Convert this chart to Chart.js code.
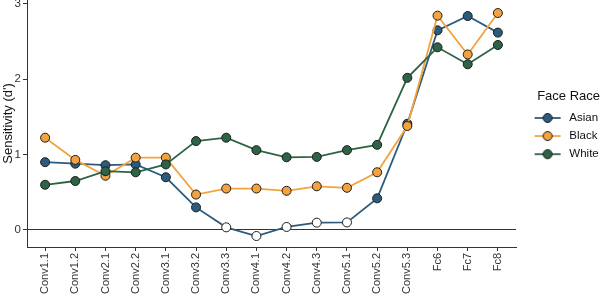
<!DOCTYPE html>
<html><head><meta charset="utf-8">
<script src="https://cdn.jsdelivr.net/npm/chart.js@4"></script>
<style>html,body{margin:0;padding:0;background:#fff}</style>
</head><body>
<canvas id="c" width="600" height="295"></canvas>
<script>
const categories = ['Conv1.1','Conv1.2','Conv2.1','Conv2.2','Conv3.1','Conv3.2','Conv3.3','Conv4.1','Conv4.2','Conv4.3','Conv5.1','Conv5.2','Conv5.3','Fc6','Fc7','Fc8'];
const asian = [0.90,0.88,0.86,0.87,0.70,0.30,0.035,-0.08,0.04,0.097,0.10,0.42,1.41,2.65,2.84,2.62];
const black = [1.225,0.93,0.72,0.96,0.96,0.47,0.55,0.55,0.52,0.58,0.56,0.766,1.38,2.845,2.33,2.88];
const white = [0.60,0.65,0.78,0.766,0.87,1.18,1.225,1.06,0.965,0.97,1.06,1.13,2.02,2.425,2.20,2.456];
const asianSignificant = [true,true,true,true,true,true,false,false,false,false,false,true,true,true,true,true];
const seriesNames = ['Asian','Black','White'];
const yTickValues = [0,1,2,3];
const legendTitle = 'Face Race';
const yTitle = "Sensitivity (d')";

const FONT = "'Liberation Sans', Arial, Helvetica, sans-serif";
const colors = ['#2b5b7d','#f2a33f','#2e6446'];
const outline = '#1c1c1c';
const axisColor = '#333333';

function makeMarker(color){
  const cv = document.createElement('canvas');
  cv.width = 41; cv.height = 12;
  const g = cv.getContext('2d');
  g.strokeStyle = color; g.lineWidth = 1.8;
  g.beginPath(); g.moveTo(12,6); g.lineTo(38,6); g.stroke();
  g.beginPath(); g.arc(25,6,4.5,0,Math.PI*2);
  g.fillStyle = color; g.fill();
  g.strokeStyle = outline; g.lineWidth = 1; g.stroke();
  return cv;
}
const markers = colors.map(makeMarker);

function toPoints(arr){ return arr.map((v,i)=>({x:i,y:v})); }

const datasets = [
  {label:seriesNames[0], data:toPoints(asian), borderColor:colors[0],
   pointBackgroundColor: asianSignificant.map(s=>s?colors[0]:'#ffffff'), order:3},
  {label:seriesNames[1], data:toPoints(black), borderColor:colors[1], pointBackgroundColor:colors[1], order:2},
  {label:seriesNames[2], data:toPoints(white), borderColor:colors[2], pointBackgroundColor:colors[2], order:1}
].map(d=>Object.assign({borderWidth:1.8, pointRadius:4.5, pointBorderColor:outline, pointBorderWidth:1, tension:0, fill:false, clip:8}, d));

new Chart(document.getElementById('c'), {
  type:'line',
  data:{datasets},
  options:{
    responsive:false, animation:false, devicePixelRatio:1,
    layout:{autoPadding:false, padding:{left:0,right:0,top:0,bottom:0}},
    plugins:{
      tooltip:{enabled:false},
      legend:{
        position:'right', align:'start', maxWidth:84,
        title:{display:true, text:legendTitle, color:'#111', font:{family:FONT,size:13}, padding:{top:90,bottom:0}, position:'end'},
        labels:{
          usePointStyle:true, pointStyleWidth:41, boxHeight:12, padding:6.6, color:'#111',
          font:{family:FONT,size:11.5},
          generateLabels(chart){
            return chart.data.datasets.map((d,i)=>({text:d.label, pointStyle:markers[i], fillStyle:colors[i], strokeStyle:colors[i], lineWidth:0, hidden:false, datasetIndex:i}));
          }
        }
      }
    },
    scales:{
      x:{
        type:'linear', min:-0.6, max:15.6,
        afterBuildTicks(s){ s.ticks = categories.map((_,i)=>({value:i})); },
        afterFit(s){ s.height = 48; },
        border:{display:true, color:axisColor, width:1},
        grid:{drawOnChartArea:false, drawTicks:true, tickLength:4, tickColor:axisColor},
        ticks:{autoSkip:false, maxRotation:90, minRotation:90, padding:2, color:'#333',
          font:{family:FONT,size:11}, callback:(v)=>categories[v]}
      },
      y:{
        min:-0.226, max:3.053,
        afterBuildTicks(s){ s.ticks = yTickValues.map(v=>({value:v})); },
        afterFit(s){ s.width = 27; s.paddingTop = 0; s.paddingBottom = 0; },
        border:{display:true, color:axisColor, width:1},
        grid:{drawOnChartArea:true, drawTicks:true, tickLength:4, tickColor:axisColor,
          color:(ctx)=> (ctx.tick && ctx.tick.value===0) ? axisColor : 'rgba(0,0,0,0)', lineWidth:1},
        ticks:{padding:2, color:'#333', font:{family:FONT,size:11.5}},
        title:{display:true, text:yTitle, color:'#111', font:{family:FONT,size:13}, padding:{top:0.5,bottom:0}}
      }
    }
  }
});
</script>
</body></html>
